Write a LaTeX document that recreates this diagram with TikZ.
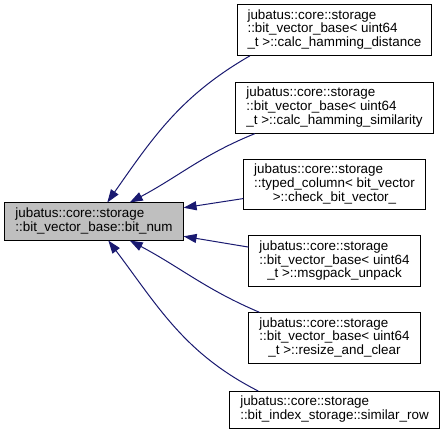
\documentclass[tikz,border=0pt]{standalone}
\usepackage{fontspec}
\setmainfont{Liberation Sans}
\usetikzlibrary{arrows.meta,positioning}
\definecolor{doxedge}{HTML}{191970}
\definecolor{doxgray}{HTML}{BFBFBF}
\tikzstyle{member} = [rectangle, draw=black, line width=1pt, fill=white,
    inner xsep=10.5pt, inner ysep=4.75pt, font=\fontsize{13.4}{13.5}\selectfont]
\tikzstyle{current} = [member, fill=doxgray]
\tikzstyle{arrow} = [-{Triangle[length=13pt,width=9pt]}, line width=1pt, doxedge]
% first lines left, last line centred
\newcommand{\doxlabel}[2]{\begin{tabular}{@{}l@{}}#1\\\multicolumn{1}{@{}c@{}}{#2}\end{tabular}}

\begin{document}
\begin{tikzpicture}[x=1pt,y=1pt,node distance=25pt]
\useasboundingbox (0,0) rectangle (445,429);
\node[current] (bitnum) at (94,207.5) {\doxlabel{jubatus::core::storage}{::bit\_vector\_base::bit\_num}};
\node[member] (n1) at (334.5,399) {\doxlabel{jubatus::core::storage\\::bit\_vector\_base< uint64}{\_t >::calc\_hamming\_distance}};
\node[member, below=26pt of n1] (n2) {\doxlabel{jubatus::core::storage\\::bit\_vector\_base< uint64}{\_t >::calc\_hamming\_similarity}};
\node[member, below=of n2] (n3) {\doxlabel{jubatus::core::storage\\::typed\_column< bit\_vector}{>::check\_bit\_vector\_}};
\node[member, below=of n3] (n4) {\doxlabel{jubatus::core::storage\\::bit\_vector\_base< uint64}{\_t >::msgpack\_unpack}};
\node[member, below=of n4] (n5) {\doxlabel{jubatus::core::storage\\::bit\_vector\_base< uint64}{\_t >::resize\_and\_clear}};
\node[member, below=27pt of n5] (n6) {\doxlabel{jubatus::core::storage}{::bit\_index\_storage::similar\_row}};

\draw[arrow] (n1.197) to[out=210,in=55] (bitnum);
\draw[arrow] (n2.198) to[out=202,in=28] (bitnum);
\draw[arrow] (n3) -- (bitnum);
\draw[arrow] (n4) -- (bitnum);
\draw[arrow] (n5.161) to[out=157,in=-28] (bitnum);
\draw[arrow] (n6.166) to[out=153,in=-53] (bitnum);
\end{tikzpicture}
\end{document}
